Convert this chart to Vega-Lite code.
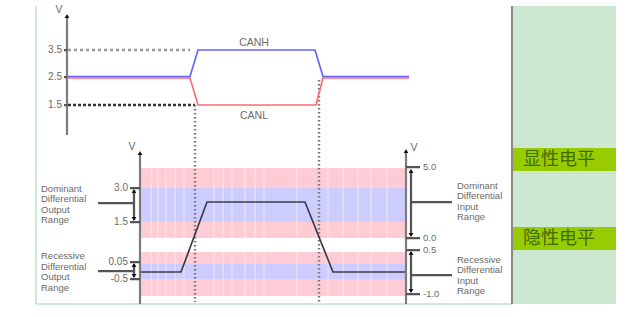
{
  "$schema": "https://vega.github.io/schema/vega-lite/v6.json",
  "width": 632,
  "height": 317,
  "padding": 0,
  "autosize": {"type": "fit", "contains": "padding"},
  "background": "white",
  "config": {"view": {"stroke": null}},
  "resolve": {"scale": {"color": "independent", "strokeWidth": "independent", "strokeDash": "independent", "shape": "independent"}},
  "datasets": {
    "rects": [
      {"x": 513, "x2": 616, "y": 6, "y2": 304, "kind": "panel"},
      {"x": 513, "x2": 616, "y": 148, "y2": 171, "kind": "label"},
      {"x": 513, "x2": 616, "y": 227, "y2": 250, "kind": "label"},
      {"x": 141, "x2": 405, "y": 168, "y2": 188, "kind": "pink"},
      {"x": 141, "x2": 405, "y": 188, "y2": 222, "kind": "blue"},
      {"x": 141, "x2": 405, "y": 222, "y2": 238, "kind": "pink"},
      {"x": 141, "x2": 405, "y": 252, "y2": 264, "kind": "pink"},
      {"x": 141, "x2": 405, "y": 264, "y2": 279, "kind": "blue"},
      {"x": 141, "x2": 405, "y": 279, "y2": 296, "kind": "pink"}
    ],
    "stripes": [
      {"x": 150, "x2": 152, "y": 168, "y2": 238}, {"x": 157, "x2": 159, "y": 168, "y2": 238}, {"x": 165, "x2": 167, "y": 168, "y2": 238},
      {"x": 174, "x2": 176, "y": 168, "y2": 238}, {"x": 183, "x2": 185, "y": 168, "y2": 238}, {"x": 213, "x2": 215, "y": 168, "y2": 238},
      {"x": 222, "x2": 224, "y": 168, "y2": 238}, {"x": 231, "x2": 233, "y": 168, "y2": 238}, {"x": 244, "x2": 246, "y": 168, "y2": 238},
      {"x": 254, "x2": 256, "y": 168, "y2": 238}, {"x": 263, "x2": 265, "y": 168, "y2": 238}, {"x": 296, "x2": 298, "y": 168, "y2": 238},
      {"x": 327, "x2": 329, "y": 168, "y2": 238}, {"x": 342, "x2": 344, "y": 168, "y2": 238}, {"x": 357, "x2": 359, "y": 168, "y2": 238},
      {"x": 370, "x2": 372, "y": 168, "y2": 238}, {"x": 386, "x2": 388, "y": 168, "y2": 238},
      {"x": 150, "x2": 152, "y": 252, "y2": 296}, {"x": 157, "x2": 159, "y": 252, "y2": 296}, {"x": 165, "x2": 167, "y": 252, "y2": 296},
      {"x": 174, "x2": 176, "y": 252, "y2": 296}, {"x": 183, "x2": 185, "y": 252, "y2": 296}, {"x": 213, "x2": 215, "y": 252, "y2": 296},
      {"x": 222, "x2": 224, "y": 252, "y2": 296}, {"x": 231, "x2": 233, "y": 252, "y2": 296}, {"x": 244, "x2": 246, "y": 252, "y2": 296},
      {"x": 254, "x2": 256, "y": 252, "y2": 296}, {"x": 263, "x2": 265, "y": 252, "y2": 296}, {"x": 296, "x2": 298, "y": 252, "y2": 296},
      {"x": 327, "x2": 329, "y": 252, "y2": 296}, {"x": 342, "x2": 344, "y": 252, "y2": 296}, {"x": 357, "x2": 359, "y": 252, "y2": 296},
      {"x": 370, "x2": 372, "y": 252, "y2": 296}, {"x": 386, "x2": 388, "y": 252, "y2": 296}
    ],
    "rules": [
      {"x": 36, "x2": 36, "y": 6, "y2": 304, "kind": "frame"},
      {"x": 36, "x2": 512, "y": 304, "y2": 304, "kind": "frame"},
      {"x": 512, "x2": 512, "y": 6, "y2": 304, "kind": "divider"},
      {"x": 67, "x2": 67, "y": 16, "y2": 135, "kind": "axis"},
      {"x": 64, "x2": 67, "y": 50, "y2": 50, "kind": "thin"},
      {"x": 64, "x2": 67, "y": 77, "y2": 77, "kind": "thin"},
      {"x": 64, "x2": 67, "y": 105, "y2": 105, "kind": "thin"},
      {"x": 68, "x2": 190, "y": 50, "y2": 50, "kind": "dashgray"},
      {"x": 68, "x2": 195, "y": 105, "y2": 105, "kind": "dash"},
      {"x": 195, "x2": 195, "y": 105, "y2": 302, "kind": "dot"},
      {"x": 319, "x2": 319, "y": 80, "y2": 302, "kind": "dot"},
      {"x": 140, "x2": 140, "y": 153, "y2": 304, "kind": "axis"},
      {"x": 130, "x2": 140, "y": 188, "y2": 188, "kind": "thin"},
      {"x": 130, "x2": 140, "y": 222, "y2": 222, "kind": "thin"},
      {"x": 130, "x2": 140, "y": 262, "y2": 262, "kind": "thin"},
      {"x": 130, "x2": 140, "y": 279, "y2": 279, "kind": "thin"},
      {"x": 134, "x2": 134, "y": 190, "y2": 220, "kind": "thin"},
      {"x": 134, "x2": 134, "y": 264, "y2": 277, "kind": "thin"},
      {"x": 98, "x2": 134, "y": 203, "y2": 203, "kind": "thin"},
      {"x": 98, "x2": 134, "y": 271, "y2": 271, "kind": "thin"},
      {"x": 406, "x2": 406, "y": 151, "y2": 304, "kind": "axis"},
      {"x": 406, "x2": 420, "y": 167, "y2": 167, "kind": "thin"},
      {"x": 406, "x2": 420, "y": 238, "y2": 238, "kind": "thin"},
      {"x": 406, "x2": 420, "y": 250, "y2": 250, "kind": "thin"},
      {"x": 406, "x2": 420, "y": 294, "y2": 294, "kind": "thin"},
      {"x": 411, "x2": 411, "y": 170, "y2": 236, "kind": "thin"},
      {"x": 411, "x2": 411, "y": 252, "y2": 292, "kind": "thin"},
      {"x": 411, "x2": 452, "y": 202, "y2": 202, "kind": "thin"},
      {"x": 411, "x2": 452, "y": 275, "y2": 275, "kind": "thin"}
    ],
    "lines": [
      {"series": "CANL", "o": 1, "x": 67, "y": 78},
      {"series": "CANL", "o": 2, "x": 190, "y": 78},
      {"series": "CANL", "o": 3, "x": 198, "y": 105},
      {"series": "CANL", "o": 4, "x": 316, "y": 105},
      {"series": "CANL", "o": 5, "x": 323, "y": 78},
      {"series": "CANL", "o": 6, "x": 409, "y": 78},
      {"series": "CANH", "o": 1, "x": 67, "y": 76.5},
      {"series": "CANH", "o": 2, "x": 190, "y": 76.5},
      {"series": "CANH", "o": 3, "x": 198, "y": 50},
      {"series": "CANH", "o": 4, "x": 315, "y": 50},
      {"series": "CANH", "o": 5, "x": 323, "y": 76.5},
      {"series": "CANH", "o": 6, "x": 409, "y": 76.5},
      {"series": "DIFF", "o": 1, "x": 141, "y": 272},
      {"series": "DIFF", "o": 2, "x": 181, "y": 272},
      {"series": "DIFF", "o": 3, "x": 207, "y": 202},
      {"series": "DIFF", "o": 4, "x": 305, "y": 202},
      {"series": "DIFF", "o": 5, "x": 333, "y": 272},
      {"series": "DIFF", "o": 6, "x": 405, "y": 272}
    ],
    "arrows": [
      {"x": 67, "y": 16, "dir": "up"},
      {"x": 140, "y": 153, "dir": "up"},
      {"x": 406, "y": 151, "dir": "up"},
      {"x": 134, "y": 191, "dir": "up"},
      {"x": 134, "y": 219, "dir": "down"},
      {"x": 134, "y": 265, "dir": "up"},
      {"x": 134, "y": 276, "dir": "down"},
      {"x": 411, "y": 171, "dir": "up"},
      {"x": 411, "y": 235, "dir": "down"},
      {"x": 411, "y": 253, "dir": "up"},
      {"x": 411, "y": 291, "dir": "down"}
    ],
    "rightText": [
      {"x": 62, "y": 50, "t": "3.5"},
      {"x": 62, "y": 77, "t": "2.5"},
      {"x": 62, "y": 105, "t": "1.5"},
      {"x": 128, "y": 188, "t": "3.0"},
      {"x": 128, "y": 222, "t": "1.5"},
      {"x": 128, "y": 262, "t": "0.05"},
      {"x": 128, "y": 279, "t": "-0.5"}
    ],
    "leftText": [
      {"x": 423, "y": 167, "t": "5.0"},
      {"x": 423, "y": 238, "t": "0.0"},
      {"x": 423, "y": 250, "t": "0.5"},
      {"x": 423, "y": 294, "t": "-1.0"},
      {"x": 41, "y": 188.5, "t": "Dominant"},
      {"x": 41, "y": 199, "t": "Differential"},
      {"x": 41, "y": 209.5, "t": "Output"},
      {"x": 41, "y": 220, "t": "Range"},
      {"x": 41, "y": 256, "t": "Recessive"},
      {"x": 41, "y": 266.5, "t": "Differential"},
      {"x": 41, "y": 277, "t": "Output"},
      {"x": 41, "y": 287.5, "t": "Range"},
      {"x": 457, "y": 185.5, "t": "Dominant"},
      {"x": 457, "y": 196, "t": "Differential"},
      {"x": 457, "y": 206.5, "t": "Input"},
      {"x": 457, "y": 217, "t": "Range"},
      {"x": 457, "y": 259.5, "t": "Recessive"},
      {"x": 457, "y": 270, "t": "Differential"},
      {"x": 457, "y": 280.5, "t": "Input"},
      {"x": 457, "y": 291, "t": "Range"}
    ],
    "centerText": [
      {"x": 59, "y": 10, "t": "V"},
      {"x": 132, "y": 147, "t": "V"},
      {"x": 414, "y": 148, "t": "V"},
      {"x": 254, "y": 43, "t": "CANH"},
      {"x": 254, "y": 116, "t": "CANL"}
    ],
    "cnText": [
      {"x": 559, "y": 160, "t": "显性电平"},
      {"x": 559, "y": 239, "t": "隐性电平"}
    ]
  },
  "layer": [
    {
      "data": {"name": "rects"},
      "mark": {"type": "rect"},
      "encoding": {
        "x": {"field": "x", "type": "quantitative", "scale": {"domain": [0, 632], "nice": false, "zero": false}, "axis": null},
        "x2": {"field": "x2"},
        "y": {"field": "y", "type": "quantitative", "scale": {"domain": [0, 317], "nice": false, "zero": false, "reverse": true}, "axis": null},
        "y2": {"field": "y2"},
        "color": {"field": "kind", "type": "nominal", "legend": null,
          "scale": {"domain": ["panel", "label", "pink", "blue"], "range": ["#CDE8D1", "#99CC00", "#FFCCD6", "#CCCCFF"]}}
      }
    },
    {
      "data": {"name": "stripes"},
      "mark": {"type": "rect", "color": "#FFF6E8", "opacity": 0.35},
      "encoding": {
        "x": {"field": "x", "type": "quantitative", "axis": null},
        "x2": {"field": "x2"},
        "y": {"field": "y", "type": "quantitative", "axis": null},
        "y2": {"field": "y2"}
      }
    },
    {
      "data": {"name": "rules"},
      "mark": {"type": "rule"},
      "encoding": {
        "x": {"field": "x", "type": "quantitative", "axis": null},
        "x2": {"field": "x2"},
        "y": {"field": "y", "type": "quantitative", "axis": null},
        "y2": {"field": "y2"},
        "color": {"field": "kind", "type": "nominal", "legend": null,
          "scale": {"domain": ["frame", "divider", "axis", "thin", "dashgray", "dash", "dot"], "range": ["#CFEAD2", "#8A8A8A", "#7A7A7A", "#555555", "#9A9A9A", "#333333", "#777777"]}},
        "strokeWidth": {"field": "kind", "type": "nominal", "legend": null,
          "scale": {"domain": ["frame", "divider", "axis", "thin", "dashgray", "dash", "dot"], "range": [2, 2.5, 2, 1, 1, 1.2, 1]}},
        "strokeDash": {"field": "kind", "type": "nominal", "legend": null,
          "scale": {"domain": ["frame", "divider", "axis", "thin", "dashgray", "dash", "dot"], "range": [[1, 0], [1, 0], [1, 0], [1, 0], [3, 3], [3, 2], [1.5, 2.5]]}}
      }
    },
    {
      "data": {"name": "lines"},
      "mark": {"type": "line", "strokeWidth": 1.7},
      "encoding": {
        "x": {"field": "x", "type": "quantitative", "axis": null},
        "y": {"field": "y", "type": "quantitative", "axis": null},
        "order": {"field": "o", "type": "quantitative"},
        "detail": {"field": "series", "type": "nominal"},
        "color": {"field": "series", "type": "nominal", "legend": null,
          "scale": {"domain": ["CANL", "CANH", "DIFF"], "range": ["#FF6B73", "#6464FF", "#3C3C4A"]}}
      }
    },
    {
      "data": {"name": "arrows"},
      "mark": {"type": "point", "filled": true, "size": 22, "color": "#111111", "opacity": 1},
      "encoding": {
        "x": {"field": "x", "type": "quantitative", "axis": null},
        "y": {"field": "y", "type": "quantitative", "axis": null},
        "shape": {"field": "dir", "type": "nominal", "legend": null,
          "scale": {"domain": ["up", "down"], "range": ["triangle-up", "triangle-down"]}}
      }
    },
    {
      "data": {"name": "rightText"},
      "mark": {"type": "text", "align": "right", "baseline": "middle", "font": "Liberation Sans", "fontSize": 10, "color": "#6A6A6A"},
      "encoding": {
        "x": {"field": "x", "type": "quantitative", "axis": null},
        "y": {"field": "y", "type": "quantitative", "axis": null},
        "text": {"field": "t", "type": "nominal"}
      }
    },
    {
      "data": {"name": "leftText"},
      "mark": {"type": "text", "align": "left", "baseline": "middle", "font": "Liberation Sans", "fontSize": 9.5, "color": "#6A6A6A"},
      "encoding": {
        "x": {"field": "x", "type": "quantitative", "axis": null},
        "y": {"field": "y", "type": "quantitative", "axis": null},
        "text": {"field": "t", "type": "nominal"}
      }
    },
    {
      "data": {"name": "centerText"},
      "mark": {"type": "text", "align": "center", "baseline": "middle", "font": "Liberation Sans", "fontSize": 10.5, "color": "#6A6A6A"},
      "encoding": {
        "x": {"field": "x", "type": "quantitative", "axis": null},
        "y": {"field": "y", "type": "quantitative", "axis": null},
        "text": {"field": "t", "type": "nominal"}
      }
    },
    {
      "data": {"name": "cnText"},
      "mark": {"type": "text", "align": "center", "baseline": "middle", "font": "Noto Sans CJK SC", "fontSize": 18, "color": "#3D6B00"},
      "encoding": {
        "x": {"field": "x", "type": "quantitative", "axis": null},
        "y": {"field": "y", "type": "quantitative", "axis": null},
        "text": {"field": "t", "type": "nominal"}
      }
    }
  ]
}
